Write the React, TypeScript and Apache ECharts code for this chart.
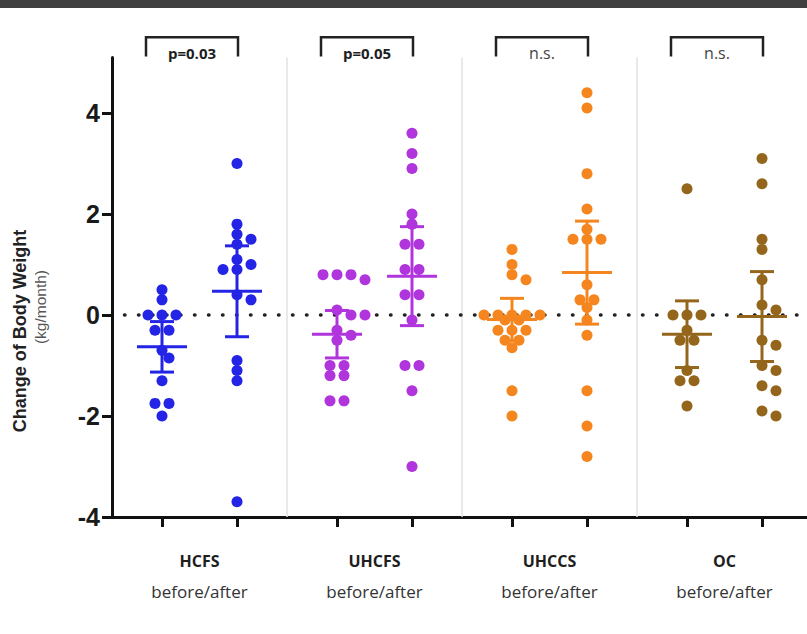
import React, { useEffect, useRef } from "react";
import * as echarts from "echarts";

// ---------- data ----------
const groups = ["HCFS", "UHCFS", "UHCCS", "OC"];
const subLabel = "before/after";
const pLabels = ["p=0.03", "p=0.05", "n.s.", "n.s."];
const yTicks = [-4, -2, 0, 2, 4];

const hcfsBefore = [0.5, 0.3, 0, 0, 0, -0.3, -0.3, -0.7, -0.85, -1.3, -1.75, -1.75, -2.0];
const hcfsAfter = [3.0, 1.8, 1.6, 1.5, 1.4, 1.1, 1.0, 0.9, 0.9, 0.4, 0.3, -0.9, -1.1, -1.3, -3.7];
const uhcfsBefore = [0.8, 0.8, 0.8, 0.7, 0.1, 0.0, 0.0, -0.3, -0.4, -0.5, -1.0, -1.0, -1.2, -1.2, -1.7, -1.7];
const uhcfsAfter = [3.6, 3.2, 2.9, 2.0, 1.8, 1.4, 1.4, 0.9, 0.9, 0.4, 0.4, -0.1, -1.0, -1.0, -1.5, -3.0];
const uhccsBefore = [1.3, 1.0, 0.8, 0.7, 0, 0, 0, 0, 0, -0.1, -0.1, -0.3, -0.3, -0.3, -0.5, -0.5, -0.65, -1.5, -2.0];
const uhccsAfter = [4.4, 4.1, 2.8, 2.1, 1.7, 1.5, 1.5, 1.5, 0.6, 0.3, 0.3, 0.15, -0.1, -0.4, -1.5, -2.2, -2.8];
const ocBefore = [2.5, 0, 0, 0, -0.3, -0.5, -0.5, -1.1, -1.3, -1.3, -1.8];
const ocAfter = [3.1, 2.6, 1.5, 1.3, 0.7, 0.2, 0.1, -0.5, -0.6, -1.0, -1.1, -1.4, -1.5, -1.9, -2.0];

// mean and SD per group: [before, after]
const means = [
  [-0.63, 0.47],
  [-0.38, 0.77],
  [-0.09, 0.84],
  [-0.38, -0.03],
];
const sds = [
  [0.5, 0.9],
  [0.47, 0.98],
  [0.42, 1.02],
  [0.66, 0.89],
];

const columns = [
  [hcfsBefore, hcfsAfter],
  [uhcfsBefore, uhcfsAfter],
  [uhccsBefore, uhccsAfter],
  [ocBefore, ocAfter],
];

// ---------- styles / layout ----------
const colors = ["#2424e6", "#b035dd", "#f5861f", "#94661c"];
const W = 807;
const H = 634;
const GRID = { left: 112, top: 57.5, right: 0, bottom: 117 };
const X_MIN = -2;
const X_MAX = 25.8;
const Y_MIN = -4;
const Y_MAX = 5.1;
const GROUP_STEP = 7;
const PAIR_STEP = 3;
const DOT = 11;

const xPx = (W - GRID.left - GRID.right) / (X_MAX - X_MIN);
const yPx = (H - GRID.top - GRID.bottom) / (Y_MAX - Y_MIN);

const colX = (g: number, k: number) => g * GROUP_STEP + k * PAIR_STEP;
const groupCenter = (g: number) => g * GROUP_STEP + PAIR_STEP / 2;

// deterministic beeswarm layout (offsets in px)
function swarm(values: number[]): number[] {
  const order = values.map((v, i) => i).sort((a, b) => values[b] - values[a]);
  const placed: { x: number; y: number }[] = [];
  const offs = new Array(values.length).fill(0);
  let i = 0;
  while (i < order.length) {
    const start = values[order[i]];
    const row: number[] = [];
    while (i < order.length && Math.abs(values[order[i]] - start) < 0.05) {
      row.push(order[i]);
      i++;
    }
    const n = row.length;
    const base = row.map((_, j) => ((n - 1) / 2 - j) * 14);
    const shifts = [0, 7, -7, 14, -14, 21, -21, 28, -28];
    let chosen = 0;
    for (const s of shifts) {
      let ok = true;
      for (let j = 0; j < n && ok; j++) {
        const px = base[j] + s;
        const py = -values[row[j]] * yPx;
        for (const p of placed) {
          if (Math.hypot(p.x - px, p.y - py) < 10) {
            ok = false;
            break;
          }
        }
      }
      if (ok) {
        chosen = s;
        break;
      }
    }
    row.forEach((idx, j) => {
      offs[idx] = base[j] + chosen;
      placed.push({ x: offs[idx], y: -values[idx] * yPx });
    });
  }
  return offs;
}

export default function App() {
  const ref = useRef<HTMLDivElement>(null);

  useEffect(() => {
    if (!ref.current) return;
    const chart = echarts.init(ref.current, undefined, { renderer: "svg" });

    const scatterSeries: any[] = [];
    columns.forEach((pair, g) => {
      pair.forEach((vals, k) => {
        const offs = swarm(vals);
        scatterSeries.push({
          type: "scatter",
          z: 3,
          symbolSize: DOT,
          itemStyle: { color: colors[g], opacity: 1 },
          data: vals.map((v, i) => [colX(g, k) + offs[i] / xPx, v]),
          silent: true,
        });
      });
    });

    const errData: any[] = [];
    means.forEach((m, g) =>
      m.forEach((mv, k) => errData.push({ value: [colX(g, k), mv, sds[g][k]], g }))
    );

    const tickXs: number[] = [];
    groups.forEach((_, g) => {
      tickXs.push(colX(g, 0), colX(g, 1));
    });

    const option: any = {
      animation: false,
      backgroundColor: "#ffffff",
      grid: { ...GRID, containLabel: false },
      xAxis: {
        type: "value",
        min: X_MIN,
        max: X_MAX,
        axisLine: { show: true, onZero: false, lineStyle: { color: "#111", width: 3 } },
        axisTick: { show: true, customValues: tickXs, length: 10, lineStyle: { color: "#111", width: 3 } },
        axisLabel: {
          customValues: groups.map((_, g) => groupCenter(g)),
          margin: 29,
          formatter: (v: number) => {
            const g = Math.round((v - PAIR_STEP / 2) / GROUP_STEP);
            return `{b|${groups[g]}}\n{n|${subLabel}}`;
          },
          rich: {
            b: { fontFamily: "Open Sans", fontWeight: "bold", fontSize: 16, color: "#1e1e1e", lineHeight: 30 },
            n: { fontFamily: "Open Sans", fontSize: 17, color: "#333", lineHeight: 30 },
          },
        },
        splitLine: { show: false },
      },
      yAxis: {
        type: "value",
        min: Y_MIN,
        max: Y_MAX,
        axisLine: { show: true, onZero: false, lineStyle: { color: "#111", width: 3 } },
        axisTick: { show: true, customValues: yTicks, length: 10, lineStyle: { color: "#111", width: 3 } },
        axisLabel: {
          customValues: yTicks,
          margin: 12,
          fontFamily: "Liberation Sans",
          fontWeight: "bold",
          fontSize: 25,
          color: "#1a1a1a",
        },
        splitLine: { show: false },
      },
      graphic: [
        { type: "rect", left: 0, top: 0, shape: { width: W, height: 8 }, style: { fill: "#404040" } },
        {
          type: "text",
          x: 20,
          y: 331,
          rotation: Math.PI / 2,
          style: {
            text: "Change of Body Weight",
            align: "center",
            verticalAlign: "middle",
            fontFamily: "Liberation Sans",
            fontWeight: "bold",
            fontSize: 18,
            fill: "#222",
          },
        },
        {
          type: "text",
          x: 40,
          y: 307,
          rotation: Math.PI / 2,
          style: {
            text: "(kg/month)",
            align: "center",
            verticalAlign: "middle",
            fontFamily: "Liberation Sans",
            fontSize: 15.5,
            fill: "#555",
          },
        },
      ],
      series: [
        {
          type: "custom",
          z: 1,
          silent: true,
          data: groups.slice(1).map((_, g) => [colX(g, 1) + (GROUP_STEP - PAIR_STEP) / 2, 0]),
          renderItem: (params: any, api: any) => {
            const x = api.value(0);
            const a = api.coord([x, Y_MIN]);
            const b = api.coord([x, Y_MAX]);
            return {
              type: "line",
              shape: { x1: a[0], y1: a[1], x2: b[0], y2: b[1] },
              style: { stroke: "#e2e2e2", lineWidth: 1.5 },
            };
          },
        },
        {
          type: "line",
          z: 2,
          silent: true,
          symbol: "none",
          data: [
            [X_MIN + 0.5, 0],
            [X_MAX, 0],
          ],
          lineStyle: { color: "#222", width: 3.5, type: [0.5, 13.5], cap: "round" },
        },
        ...scatterSeries,
        {
          type: "custom",
          z: 4,
          silent: true,
          data: errData,
          renderItem: (params: any, api: any) => {
            const x = api.value(0);
            const m = api.value(1);
            const s = api.value(2);
            const color = colors[errData[params.dataIndex].g];
            const c = api.coord([x, m]);
            const hi = api.coord([x, m + s]);
            const lo = api.coord([x, m - s]);
            const st = { stroke: color, lineWidth: 3 };
            return {
              type: "group",
              children: [
                { type: "line", shape: { x1: c[0], y1: hi[1], x2: c[0], y2: lo[1] }, style: st },
                { type: "line", shape: { x1: c[0] - 25, y1: c[1], x2: c[0] + 25, y2: c[1] }, style: st },
                { type: "line", shape: { x1: c[0] - 12, y1: hi[1], x2: c[0] + 12, y2: hi[1] }, style: st },
                { type: "line", shape: { x1: c[0] - 12, y1: lo[1], x2: c[0] + 12, y2: lo[1] }, style: st },
              ],
            };
          },
        },
        {
          type: "custom",
          z: 5,
          silent: true,
          clip: false,
          data: groups.map((_, g) => [g, 0]),
          renderItem: (params: any, api: any) => {
            const g = api.value(0);
            const left = api.coord([colX(g, 0), 5.5])[0] - 16;
            const right = api.coord([colX(g, 1), 5.5])[0] + 1;
            const top = api.coord([0, 5.5])[1];
            const legBottom = api.coord([0, 5.12])[1];
            const textY = api.coord([0, 5.19])[1];
            const sig = pLabels[g] !== "n.s.";
            return {
              type: "group",
              children: [
                {
                  type: "polyline",
                  shape: {
                    points: [
                      [left, legBottom],
                      [left, top],
                      [right, top],
                      [right, legBottom],
                    ],
                  },
                  style: { stroke: "#222", lineWidth: 2.5, fill: "none" },
                },
                {
                  type: "text",
                  style: {
                    text: pLabels[g],
                    x: (left + right) / 2,
                    y: textY,
                    align: "center",
                    verticalAlign: "middle",
                    fontFamily: "Open Sans",
                    fontWeight: sig ? "bold" : "normal",
                    fontSize: sig ? 15 : 16,
                    fill: sig ? "#1e1e1e" : "#444",
                  },
                },
              ],
            };
          },
        },
      ],
    };

    chart.setOption(option);
    return () => chart.dispose();
  }, []);

  return (
    <div
      ref={ref}
      style={{ position: "fixed", left: 0, top: 0, width: W, height: H, background: "#fff" }}
    />
  );
}
